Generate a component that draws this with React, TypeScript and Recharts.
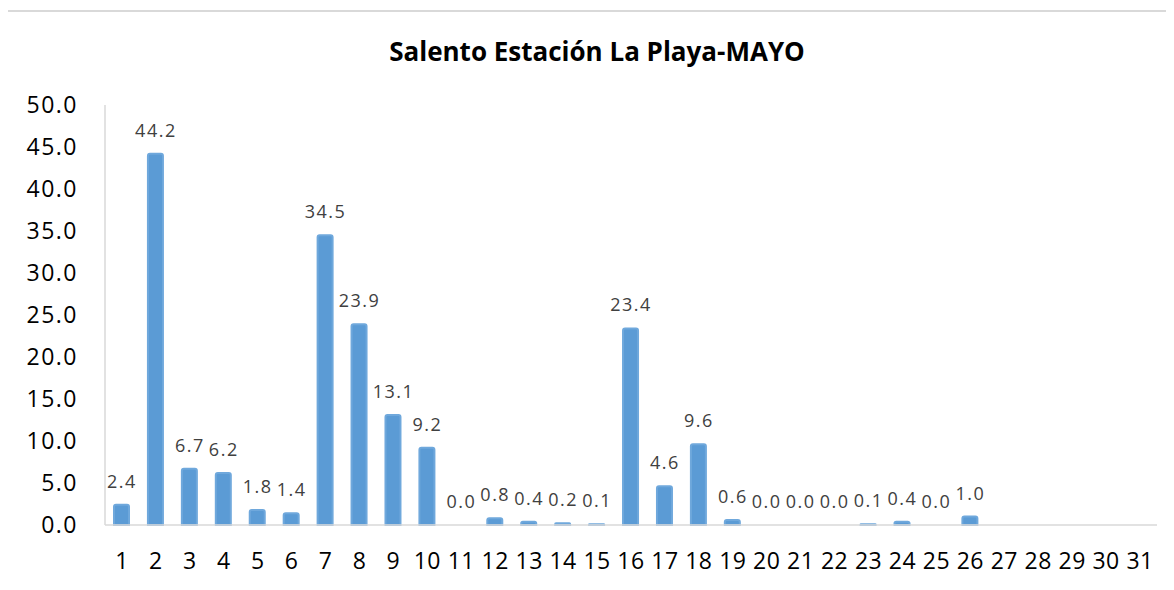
import { Bar, ComposedChart, LabelList, Line, XAxis, YAxis } from 'recharts';

const days = [
  '1', '2', '3', '4', '5', '6', '7', '8', '9', '10',
  '11', '12', '13', '14', '15', '16', '17', '18', '19', '20',
  '21', '22', '23', '24', '25', '26', '27', '28', '29', '30', '31',
];

const rain: (number | null)[] = [
  2.4, 44.2, 6.7, 6.2, 1.8, 1.4, 34.5, 23.9, 13.1, 9.2,
  0.0, 0.8, 0.4, 0.2, 0.1, 23.4, 4.6, 9.6, 0.6, 0.0,
  0.0, 0.0, 0.1, 0.4, 0.0, 1.0, null, null, null, null, null,
];

const yTicks = [0, 5, 10, 15, 20, 25, 30, 35, 40, 45, 50];

const data = days.map((day, i) => ({ day, value: rain[i] }));

const font = '"Open Sans", sans-serif';

export default function App() {
  return (
    <div style={{ margin: -8, width: 1174, height: 590, position: 'relative', overflow: 'hidden', background: '#fff' }}>
      <div
        style={{
          position: 'absolute',
          left: 6,
          top: 10,
          width: 1200,
          height: 620,
          border: '2px solid #D9D9D9',
        }}
      />
      <div
        style={{
          position: 'absolute',
          left: 0,
          width: 1194,
          top: 34,
          textAlign: 'center',
          fontFamily: font,
          fontWeight: 700,
          fontSize: 26,
          color: '#000',
          lineHeight: '34px',
        }}
      >
        Salento Estación La Playa-MAYO
      </div>
      <div style={{ position: 'absolute', left: 0, top: 0 }}>
        <ComposedChart
          width={1174}
          height={590}
          data={data}
          margin={{ top: 105, right: 17, bottom: 35, left: 10 }}
          barSize={15}
        >
          <XAxis
            dataKey="day"
            interval={0}
            height={30}
            tickLine={false}
            tickSize={0}
            tickMargin={28}
            axisLine={{ stroke: '#D9D9D9', strokeWidth: 1.5 }}
            tick={{ fill: '#000', fontSize: 23, fontFamily: font, letterSpacing: 0.5 }}
          />
          <YAxis
            width={95}
            domain={[0, 50]}
            ticks={yTicks}
            interval={0}
            tickLine={false}
            tickSize={0}
            tickMargin={27}
            axisLine={{ stroke: '#D9D9D9', strokeWidth: 1.5 }}
            tickFormatter={(v: number) => v.toFixed(1)}
            tick={{ fill: '#000', fontSize: 23, fontFamily: font, letterSpacing: 1.5 }}
          />
          <Bar
            dataKey="value"
            fill="#5B9BD5"
            stroke="#6FA8DC"
            strokeWidth={2}
            radius={[2, 2, 0, 0]}
            isAnimationActive={false}
          />
          <Line
            dataKey="value"
            stroke="none"
            dot={false}
            activeDot={false}
            legendType="none"
            isAnimationActive={false}
          >
            <LabelList
              dataKey="value"
              position="top"
              offset={17}
              formatter={(v: any) => (v == null ? '' : Number(v).toFixed(1))}
              style={{ fill: '#404040', fontSize: 18, fontFamily: font, letterSpacing: 1.5 }}
            />
          </Line>
        </ComposedChart>
      </div>
    </div>
  );
}
